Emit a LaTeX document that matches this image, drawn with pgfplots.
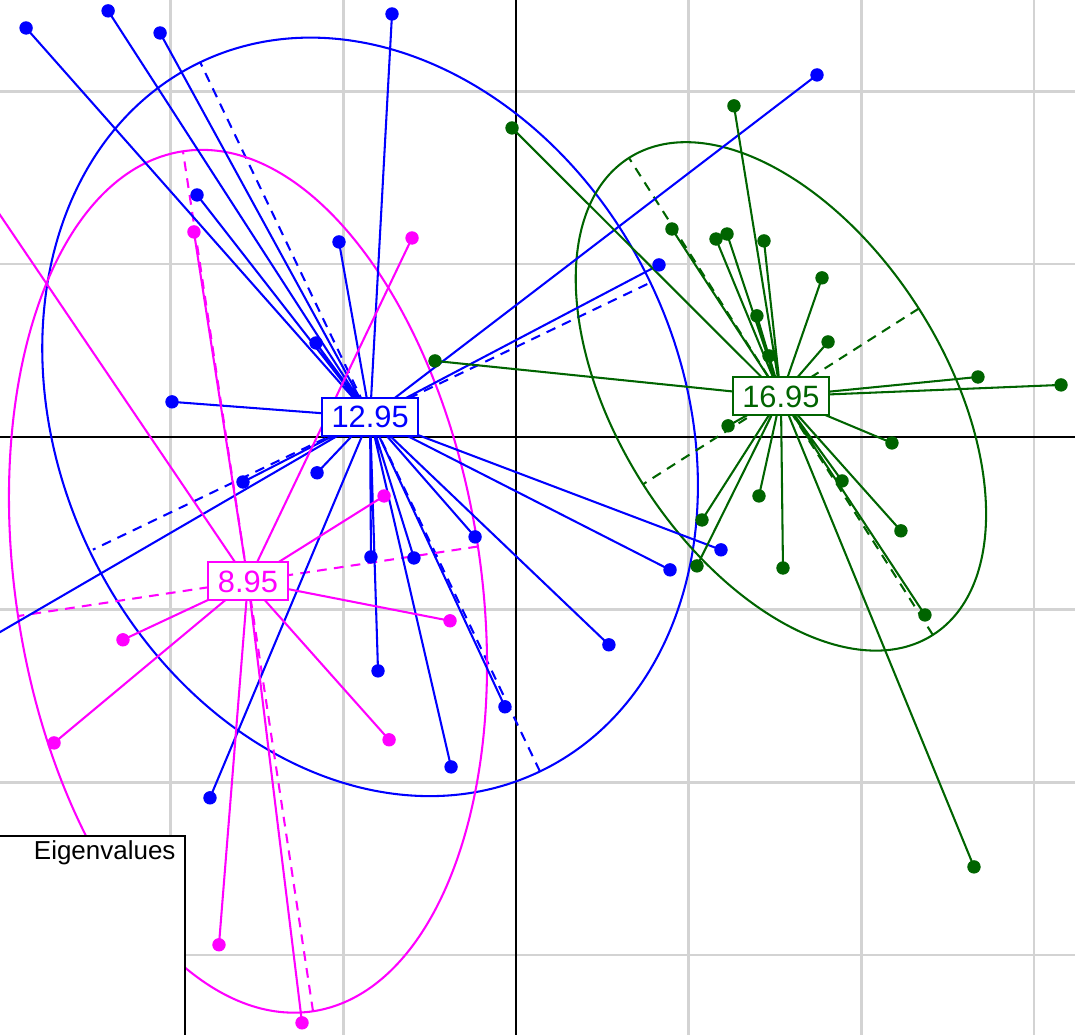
\documentclass[border=0pt]{standalone}
\usepackage{fontspec}
\setmainfont{Liberation Sans}
\usepackage{pgfplots}
\pgfplotsset{compat=1.18}
\definecolor{gridgray}{RGB}{211,211,211}
\definecolor{dgreen}{RGB}{0,100,0}
\definecolor{mag}{RGB}{255,0,255}
\definecolor{blu}{RGB}{0,0,255}
\begin{document}
\begin{tikzpicture}
\begin{axis}[
  x=2.5cm, y=2.5cm,
  xmin=-2.988, xmax=3.237, ymin=-3.463, ymax=2.530,
  xtick={-2,-1,0,1,2,3}, ytick={-3,-2,-1,0,1,2},
  xticklabels={}, yticklabels={},
  axis line style={draw=none}, tick style={draw=none},
  grid=major, major grid style={color=gridgray, line width=1pt},
  clip=true,
]
% zero lines
\draw[black, line width=0.85pt] (axis cs:-4,0) -- (axis cs:4,0);
\draw[black, line width=0.85pt] (axis cs:0,-4) -- (axis cs:0,3);

% ellipses and their axes
\draw[blu, line width=0.85pt] (axis cs:-0.845,0.116) ellipse [x radius=5.692cm, y radius=4.5cm, rotate=-64.4];
\draw[blu, line width=0.85pt, dash pattern=on 4pt off 3pt] (axis cs:-0.845,0.116) ++(-64.4:5.692cm) -- ++(115.6:11.384cm);
\draw[blu, line width=0.85pt, dash pattern=on 4pt off 3pt] (axis cs:-0.845,0.116) ++(25.6:4.45cm) -- ++(205.6:8.9cm);

\draw[mag, line width=0.85pt] (axis cs:-1.552,-0.836) ellipse [x radius=6.296cm, y radius=3.367cm, rotate=-81.4];
\draw[mag, line width=0.85pt, dash pattern=on 4pt off 3pt] (axis cs:-1.552,-0.836) ++(-81.4:6.296cm) -- ++(98.6:12.592cm);
\draw[mag, line width=0.85pt, dash pattern=on 4pt off 3pt] (axis cs:-1.552,-0.836) ++(8.6:3.367cm) -- ++(188.6:6.734cm);

\draw[dgreen, line width=0.85pt] (axis cs:1.534,0.2345) ellipse [x radius=4.094cm, y radius=2.367cm, rotate=-57.5];
\draw[dgreen, line width=0.85pt, dash pattern=on 4pt off 3pt] (axis cs:1.534,0.2345) ++(-57.5:4.094cm) -- ++(122.5:8.188cm);
\draw[dgreen, line width=0.85pt, dash pattern=on 4pt off 3pt] (axis cs:1.534,0.2345) ++(32.5:2.367cm) -- ++(212.5:4.734cm);

% stars
\addplot[blu, line width=0.85pt, line join=round, mark=none] coordinates {
(-0.845,0.116) (-2.837,2.368) (-0.845,0.116) (-2.362,2.467) (-0.845,0.116) (-2.061,2.339)
(-0.845,0.116) (-0.718,2.449) (-0.845,0.116) (1.743,2.096) (-0.845,0.116) (-1.847,1.401)
(-0.845,0.116) (-1.025,1.129) (-0.845,0.116) (0.828,0.996) (-0.845,0.116) (-1.158,0.544)
(-0.845,0.116) (-1.992,0.203) (-0.845,0.116) (-1.581,-0.261) (-0.845,0.116) (-1.152,-0.208)
(-0.845,0.116) (-0.237,-0.579) (-0.845,0.116) (-0.840,-0.695) (-0.845,0.116) (-0.591,-0.701)
(-0.845,0.116) (1.187,-0.654) (-0.845,0.116) (0.892,-0.770) (-0.845,0.116) (0.538,-1.204)
(-0.845,0.116) (-0.799,-1.355) (-0.845,0.116) (-0.064,-1.563) (-0.845,0.116) (-0.376,-1.911)
(-0.845,0.116) (-1.772,-2.090) (-0.845,0.116) (-3.335,-1.332)
};
\addplot[mag, line width=0.85pt, line join=round, mark=none] coordinates {
(-1.552,-0.836) (-1.865,1.187) (-1.552,-0.836) (-0.602,1.152) (-1.552,-0.836) (-0.764,-0.342)
(-1.552,-0.836) (-0.382,-1.065) (-1.552,-0.836) (-2.276,-1.175) (-1.552,-0.836) (-2.675,-1.772)
(-1.552,-0.836) (-0.735,-1.754) (-1.552,-0.836) (-1.720,-2.941) (-1.552,-0.836) (-1.239,-3.393)
(-1.552,-0.836) (-3.278,1.714)
};
\addplot[dgreen, line width=0.85pt, line join=round, mark=none] coordinates {
(1.534,0.2345) (-0.023,1.789) (1.534,0.2345) (1.262,1.917) (1.534,0.2345) (0.903,1.204)
(1.534,0.2345) (1.158,1.146) (1.534,0.2345) (1.222,1.175) (1.534,0.2345) (1.436,1.135)
(1.534,0.2345) (1.772,0.921) (1.534,0.2345) (1.395,0.701) (1.534,0.2345) (1.807,0.550)
(1.534,0.2345) (1.465,0.469) (1.534,0.2345) (-0.469,0.440) (1.534,0.2345) (2.675,0.347)
(1.534,0.2345) (3.156,0.301) (1.534,0.2345) (1.228,0.064) (1.534,0.2345) (2.177,-0.035)
(1.534,0.2345) (1.888,-0.255) (1.534,0.2345) (1.407,-0.342) (1.534,0.2345) (1.077,-0.481)
(1.534,0.2345) (2.229,-0.544) (1.534,0.2345) (1.048,-0.747) (1.534,0.2345) (1.546,-0.759)
(1.534,0.2345) (2.368,-1.031) (1.534,0.2345) (2.652,-2.490)
};

% points
\addplot[blu, only marks, mark=*, mark size=2.55pt] coordinates {
(-2.837,2.368) (-2.362,2.467) (-2.061,2.339) (-0.718,2.449) (1.743,2.096) (-1.847,1.401)
(-1.025,1.129) (0.828,0.996) (-1.158,0.544) (-1.992,0.203) (-1.581,-0.261) (-1.152,-0.208)
(-0.237,-0.579) (-0.840,-0.695) (-0.591,-0.701) (1.187,-0.654) (0.892,-0.770) (0.538,-1.204)
(-0.799,-1.355) (-0.064,-1.563) (-0.376,-1.911) (-1.772,-2.090) (-3.335,-1.332)
};
\addplot[mag, only marks, mark=*, mark size=2.55pt] coordinates {
(-1.865,1.187) (-0.602,1.152) (-0.764,-0.342) (-0.382,-1.065) (-2.276,-1.175) (-2.675,-1.772)
(-0.735,-1.754) (-1.720,-2.941) (-1.239,-3.393) (-3.278,1.714)
};
\addplot[dgreen, only marks, mark=*, mark size=2.55pt] coordinates {
(-0.023,1.789) (1.262,1.917) (0.903,1.204) (1.158,1.146) (1.222,1.175) (1.436,1.135)
(1.772,0.921) (1.395,0.701) (1.807,0.550) (1.465,0.469) (-0.469,0.440) (2.675,0.347)
(3.156,0.301) (1.228,0.064) (2.177,-0.035) (1.888,-0.255) (1.407,-0.342) (1.077,-0.481)
(2.229,-0.544) (1.048,-0.747) (1.546,-0.759) (2.368,-1.031) (2.652,-2.490)
};

% labels
\tikzset{grplab/.style={fill=white, line width=0.85pt, inner xsep=4pt, inner ysep=3.3pt,
  text height=9.1pt, text depth=0pt, font=\fontsize{12.7}{14}\selectfont}}
\node[grplab, draw=blu, text=blu] at (axis cs:-0.845,0.116) {12.95};
\node[grplab, draw=mag, text=mag] at (axis cs:-1.552,-0.836) {8.95};
\node[grplab, draw=dgreen, text=dgreen] at (axis cs:1.534,0.2345) {16.95};

% eigenvalues box
\draw[black, line width=0.85pt, fill=white] (axis cs:-3.2,-3.7) rectangle (axis cs:-1.917,-2.310);
\node[anchor=base east, inner sep=0pt, font=\fontsize{10.7}{12}\selectfont] at (axis cs:-1.969,-2.449) {Eigenvalues};
\end{axis}
\pgfresetboundingbox
\path (current axis.south west) rectangle (current axis.north east);
\end{tikzpicture}
\end{document}
